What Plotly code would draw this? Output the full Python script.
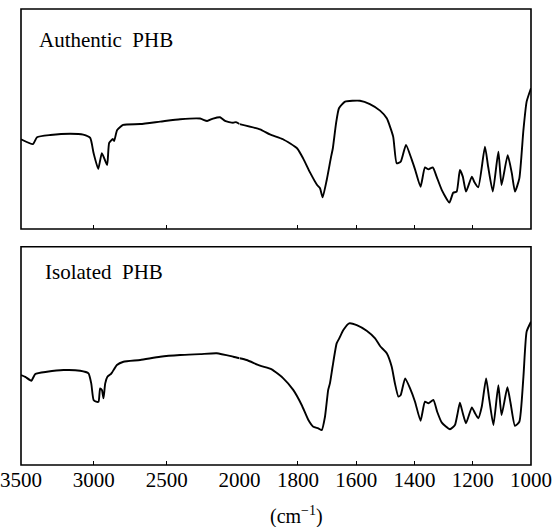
import plotly.graph_objects as go

# ---- data (wavenumber in cm^-1, transmittance in arbitrary %) ----
wn_authentic = [3500, 3418, 3390, 3299, 3162, 3073, 3025, 3002, 2970, 2945, 2909, 2895, 2870, 2861,
                2840, 2799, 2682, 2545, 2408, 2271, 2223, 2182, 2134, 2100, 2045, 2025, 2000,
                1930, 1896, 1851, 1803, 1782, 1758, 1734, 1724, 1715, 1701, 1686, 1680, 1669,
                1659, 1638, 1587, 1553, 1518, 1495, 1473, 1461, 1447, 1429, 1409, 1398, 1379,
                1364, 1352, 1337, 1324, 1306, 1280, 1267, 1255, 1244, 1234, 1223, 1203, 1195,
                1181, 1158, 1147, 1131, 1112, 1101, 1080, 1066, 1055, 1040, 1026, 1015, 1000]
t_authentic = [40.8, 38.6, 41.7, 42.7, 43.3, 42.9, 41.4, 34.5, 27.3, 34.5, 29.1, 39.1, 40.9, 40.0,
               45.0, 47.3, 47.7, 48.8, 49.9, 50.2, 49.1, 50.2, 50.8, 49.1, 48.3, 48.6, 47.7,
               45.3, 43.0, 40.8, 36.7, 32.1, 25.6, 20.0, 18.5, 14.4, 22.3, 32.9, 36.7, 48.0,
               54.9, 57.9, 58.3, 56.8, 53.8, 50.3, 42.0, 29.9, 30.6, 38.2, 31.4, 27.1, 19.2,
               28.0, 27.1, 28.0, 23.8, 17.7, 12.0, 16.5, 17.0, 26.8, 23.8, 17.0, 23.8, 21.5,
               19.0, 37.4, 28.3, 17.0, 35.1, 20.0, 33.6, 25.5, 17.0, 23.0, 45.0, 57.9, 64.0]

wn_isolated = [3500, 3471, 3429, 3402, 3322, 3208, 3094, 3037, 3018, 3002, 2984, 2968, 2957, 2945,
               2934, 2922, 2907, 2883, 2876, 2842, 2797, 2682, 2545, 2408, 2271, 2157, 2043, 2000,
               1976, 1930, 1890, 1850, 1816, 1787, 1764, 1747, 1730, 1718, 1707, 1696, 1690,
               1681, 1667, 1658, 1644, 1624, 1598, 1564, 1535, 1518, 1495, 1478, 1467, 1455,
               1447, 1432, 1415, 1398, 1379, 1364, 1352, 1335, 1322, 1306, 1278, 1261, 1253,
               1244, 1234, 1223, 1203, 1192, 1181, 1169, 1154, 1143, 1129, 1112, 1101, 1081,
               1070, 1055, 1040, 1026, 1015, 1000]
t_isolated = [41.2, 40.4, 38.6, 41.7, 42.7, 43.5, 43.2, 42.0, 37.4, 29.8, 29.0, 29.0, 35.1, 34.4,
              30.6, 37.4, 40.4, 41.7, 42.3, 45.8, 47.3, 48.1, 49.6, 50.4, 50.8, 51.2, 49.6, 48.9,
              48.1, 45.5, 43.8, 39.7, 34.4, 27.5, 20.6, 17.5, 16.8, 16.0, 22.1, 34.4, 37.4,
              45.0, 55.7, 58.0, 61.8, 64.9, 64.1, 61.5, 58.0, 54.5, 51.2, 45.0, 37.4, 31.3,
              32.1, 39.7, 35.1, 29.0, 20.3, 29.0, 28.3, 29.8, 24.4, 19.4, 16.4, 18.3, 22.9,
              28.5, 23.7, 19.1, 26.4, 23.7, 21.4, 26.7, 39.7, 29.8, 18.3, 36.6, 22.9, 35.6,
              28.3, 17.9, 19.8, 40.4, 61.1, 65.6]

ticks_high = [3500, 3000, 2500, 2000]          # 3500-2000 cm^-1 section
ticks_low = [1800, 1600, 1400, 1200, 1000]     # expanded 2000-1000 cm^-1 section
panel_labels = ["Authentic  PHB", "Isolated  PHB"]
unit_label = "(cm<sup>\u22121</sup>)"

# ---- layout geometry ----
W, H = 552, 527
x_left, x_mid, x_right = 21 / W, 239.6 / W, 531 / W
top_dom = [(H - 229) / H, (H - 9) / H]
bot_dom = [(H - 465) / H, (H - 246.7) / H]
FONT = "Liberation Serif"


def split(wn, t):
    hi = [(w, v) for w, v in zip(wn, t) if w >= 2000]
    lo = [(w, v) for w, v in zip(wn, t) if w <= 2000]
    return hi, lo


fig = go.Figure()
line = dict(color="black", width=1.9, shape="spline", smoothing=0.5)
for (wn, t), (xa_hi, xa_lo, ya) in zip(
        [(wn_authentic, t_authentic), (wn_isolated, t_isolated)],
        [("x", "x2", "y"), ("x3", "x4", "y2")]):
    hi, lo = split(wn, t)
    fig.add_trace(go.Scatter(x=[p[0] for p in hi], y=[p[1] for p in hi], mode="lines",
                             line=line, xaxis=xa_hi, yaxis=ya, showlegend=False, hoverinfo="skip"))
    fig.add_trace(go.Scatter(x=[p[0] for p in lo], y=[p[1] for p in lo], mode="lines",
                             line=line, xaxis=xa_lo, yaxis=ya, showlegend=False, hoverinfo="skip"))


def xax(dom, rng, ticks, anchor, labels):
    return dict(domain=dom, range=rng, anchor=anchor, tickvals=ticks,
                ticktext=[str(v) for v in ticks], showticklabels=labels,
                ticks="inside", ticklen=4, tickwidth=1.3, tickcolor="black",
                showgrid=False, zeroline=False, showline=False, automargin=False,
                tickfont=dict(family=FONT, size=21, color="black"), fixedrange=True)


def yax(dom):
    return dict(domain=dom, range=[0, 100], visible=False, fixedrange=True, automargin=False)


fig.update_layout(
    width=W, height=H, margin=dict(l=0, r=0, t=0, b=0, pad=0, autoexpand=False),
    paper_bgcolor="white", plot_bgcolor="white",
    xaxis=xax([x_left, x_mid], [3500, 2000], ticks_high, "y", False),
    xaxis2=xax([x_mid, x_right], [2000, 1000], ticks_low, "y", False),
    xaxis3=xax([x_left, x_mid], [3500, 2000], ticks_high, "y2", True),
    xaxis4=xax([x_mid, x_right], [2000, 1000], ticks_low, "y2", True),
    yaxis=yax(top_dom), yaxis2=yax(bot_dom),
    font=dict(family=FONT, color="black"),
)

for dom in (top_dom, bot_dom):
    fig.add_shape(type="rect", xref="paper", yref="paper", x0=x_left, x1=x_right,
                  y0=dom[0], y1=dom[1], line=dict(color="black", width=1.6))

fig.add_annotation(text=panel_labels[0], xref="paper", yref="paper", x=37 / W, y=(H - 40) / H,
                   xanchor="left", yanchor="middle", showarrow=False,
                   font=dict(family=FONT, size=21, color="black"))
fig.add_annotation(text=panel_labels[1], xref="paper", yref="paper", x=43 / W, y=(H - 272) / H,
                   xanchor="left", yanchor="middle", showarrow=False,
                   font=dict(family=FONT, size=21, color="black"))
fig.add_annotation(text=unit_label, xref="paper", yref="paper", x=297 / W, y=(H - 515) / H,
                   xanchor="center", yanchor="middle", showarrow=False,
                   font=dict(family=FONT, size=20, color="black"))

fig.write_html("out.html")
